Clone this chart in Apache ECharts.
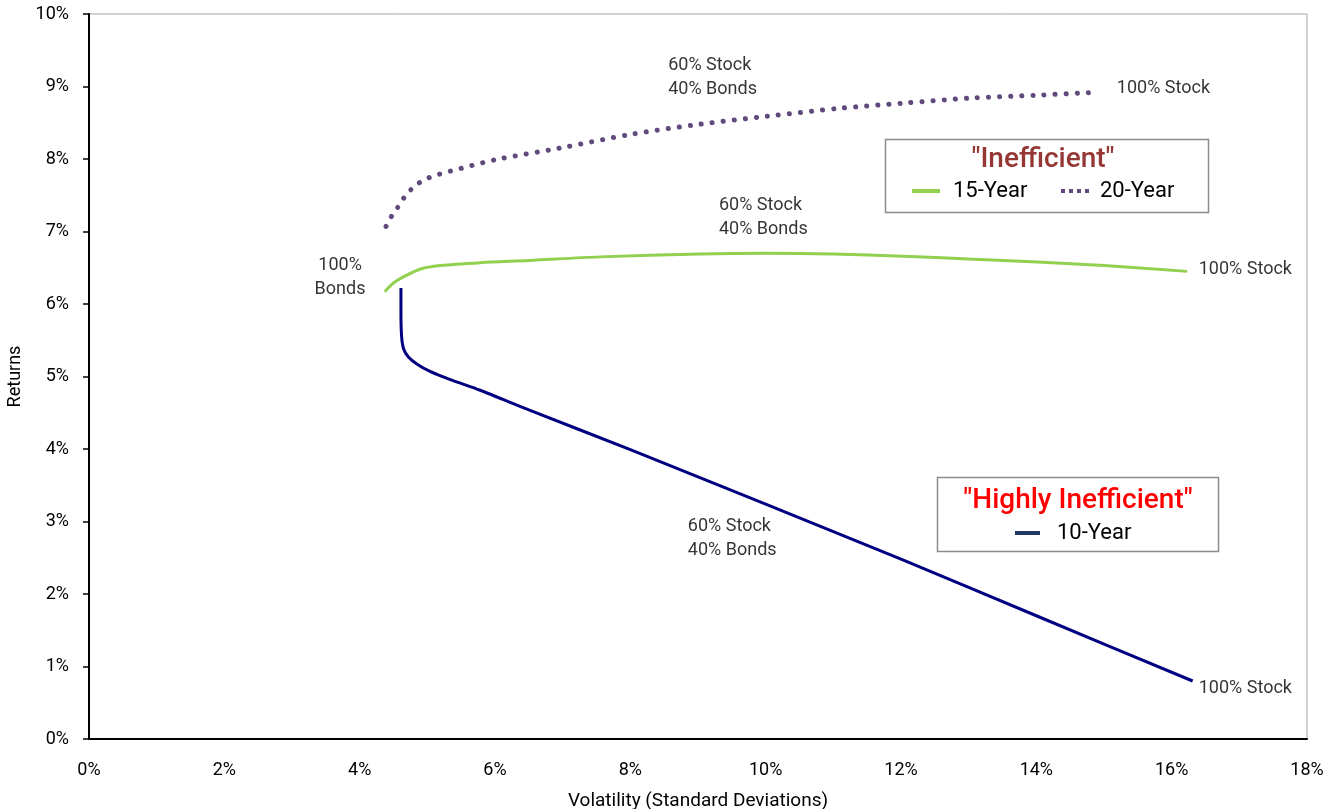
<!DOCTYPE html>
<html>
<head>
<meta charset="utf-8">
<script src="https://cdn.jsdelivr.net/npm/echarts@6/dist/echarts.min.js"></script>
<style>
  html, body { margin: 0; padding: 0; background: #fff; }
  #chart { width: 1328px; height: 809px; }
</style>
</head>
<body>
<div id="chart"></div>
<script>
// Risk / return frontiers for stock–bond mixes over rolling horizons (values in %)
const xTicks = [0, 2, 4, 6, 8, 10, 12, 14, 16, 18];
const yTicks = [0, 1, 2, 3, 4, 5, 6, 7, 8, 9, 10];

// 20-year horizon: [volatility, return]
const vol20 = [4.39, 4.49, 4.60, 4.68, 4.82, 4.97, 5.14, 5.33, 6.01, 6.96, 8.01, 9.03, 10.02, 11.10, 12.03, 13.02, 14.02, 14.87];
const ret20 = [7.07, 7.24, 7.38, 7.50, 7.63, 7.72, 7.78, 7.83, 7.99, 8.15, 8.34, 8.48, 8.59, 8.70, 8.77, 8.84, 8.88, 8.92];

// 15-year horizon
const vol15 = [4.37, 4.50, 4.64, 4.89, 5.19, 5.78, 6.50, 7.55, 9.03, 10.02, 11.00, 12.03, 13.00, 14.02, 15.00, 16.23];
const ret15 = [6.17, 6.29, 6.37, 6.48, 6.53, 6.57, 6.60, 6.65, 6.69, 6.70, 6.69, 6.66, 6.62, 6.58, 6.53, 6.45];

// 10-year horizon
const vol10 = [4.61, 4.61, 4.62, 4.65, 4.72, 4.85, 5.04, 5.33, 5.78, 6.50, 8.00, 10.00, 12.00, 14.00, 16.31];
const ret10 = [6.22, 5.90, 5.55, 5.38, 5.27, 5.17, 5.07, 4.96, 4.81, 4.54, 3.99, 3.24, 2.48, 1.70, 0.80];

// Portfolio-mix callouts: [volatility, return, text]
const notesLeft = [
  [8.56, 9.13, '60% Stock\n40% Bonds'],
  [9.31, 7.20, '60% Stock\n40% Bonds'],
  [8.85, 2.77, '60% Stock\n40% Bonds'],
  [15.19, 8.97, '100% Stock'],
  [16.40, 6.47, '100% Stock'],
  [16.40, 0.70, '100% Stock']
];
const notesCenter = [
  [3.71, 6.37, '100%\nBonds']
];

const pair = (xs, ys) => xs.map((x, i) => [x, ys[i]]);
const FONT = 'Roboto';
const TXT = '#000';

const chart = echarts.init(document.getElementById('chart'), null, { renderer: 'canvas' });

const noteSeries = (arr, align) => ({
  type: 'scatter',
  silent: true,
  symbolSize: 0,
  data: arr.map(d => ({ value: [d[0], d[1]], name: d[2] })),
  label: {
    show: true,
    position: align === 'left' ? 'right' : 'inside',
    distance: 0,
    align: align,
    verticalAlign: 'middle',
    formatter: p => p.name,
    fontFamily: FONT,
    fontSize: 18,
    lineHeight: 24,
    color: TXT
  },
  z: 5
});

chart.setOption({
  animation: false,
  backgroundColor: '#fff',
  grid: {
    left: 89, right: 21, top: 14, bottom: 70,
    containLabel: false, outerBoundsMode: 'none',
    show: true, borderColor: '#a6a6a6', borderWidth: 1
  },
  xAxis: {
    type: 'value',
    min: xTicks[0], max: xTicks[xTicks.length - 1], interval: 2,
    name: 'Volatility (Standard Deviations)',
    nameLocation: 'middle', nameGap: 53,
    nameTextStyle: { fontFamily: FONT, fontSize: 19, color: TXT },
    axisLine: { show: true, onZero: false, lineStyle: { color: '#000', width: 2 } },
    axisTick: { show: false },
    splitLine: { show: false },
    axisLabel: { margin: 22, fontFamily: FONT, fontSize: 18, color: TXT, formatter: v => v + '%' }
  },
  yAxis: {
    type: 'value',
    min: yTicks[0], max: yTicks[yTicks.length - 1], interval: 1,
    name: 'Returns',
    nameLocation: 'middle', nameGap: 55,
    nameTextStyle: { fontFamily: FONT, fontSize: 18, color: TXT },
    axisLine: { show: true, onZero: false, lineStyle: { color: '#000', width: 2 } },
    axisTick: { show: true, inside: false, length: 6, lineStyle: { color: '#000', width: 1.5 } },
    splitLine: { show: false },
    axisLabel: { margin: 20, fontFamily: FONT, fontSize: 18, color: TXT, formatter: v => v + '%' }
  },
  series: [
    {
      name: '20-Year', type: 'line', data: pair(vol20, ret20),
      smooth: 0.3, showSymbol: false, silent: true,
      lineStyle: { color: '#604a7b', width: 5, type: [0.1, 11], cap: 'round' }
    },
    {
      name: '15-Year', type: 'line', data: pair(vol15, ret15),
      smooth: 0.3, showSymbol: false, silent: true,
      lineStyle: { color: '#92d050', width: 3 }
    },
    {
      name: '10-Year', type: 'line', data: pair(vol10, ret10),
      smooth: 0.25, showSymbol: false, silent: true,
      lineStyle: { color: '#000080', width: 3 }
    },
    noteSeries(notesLeft, 'left'),
    noteSeries(notesCenter, 'center')
  ],
  graphic: [
    // "Inefficient" key
    { type: 'rect', shape: { x: 885.5, y: 139.5, width: 323, height: 73 },
      style: { fill: '#fff', stroke: '#8c8c8c', lineWidth: 1.5 }, z: 10 },
    { type: 'text', x: 1043, y: 160, z: 11,
      style: { text: '"Inefficient"', fontFamily: FONT, fontSize: 28, fontWeight: 500,
               fill: '#953735', align: 'center', verticalAlign: 'middle' } },
    { type: 'line', shape: { x1: 912, y1: 191, x2: 940, y2: 191 }, z: 11,
      style: { stroke: '#92d050', lineWidth: 4 } },
    { type: 'text', x: 953, y: 191, z: 11,
      style: { text: '15-Year', fontFamily: FONT, fontSize: 22, fill: TXT, verticalAlign: 'middle' } },
    { type: 'line', shape: { x1: 1061, y1: 191, x2: 1089, y2: 191 }, z: 11,
      style: { stroke: '#604a7b', lineWidth: 4, lineDash: [4, 4] } },
    { type: 'text', x: 1100, y: 191, z: 11,
      style: { text: '20-Year', fontFamily: FONT, fontSize: 22, fill: TXT, verticalAlign: 'middle' } },

    // "Highly Inefficient" key
    { type: 'rect', shape: { x: 937.5, y: 477.5, width: 281, height: 74 },
      style: { fill: '#fff', stroke: '#8c8c8c', lineWidth: 1.5 }, z: 10 },
    { type: 'text', x: 1078, y: 501, z: 11,
      style: { text: '"Highly Inefficient"', fontFamily: FONT, fontSize: 28, fontWeight: 500,
               fill: '#ff0000', align: 'center', verticalAlign: 'middle' } },
    { type: 'line', shape: { x1: 1015, y1: 533, x2: 1040, y2: 533 }, z: 11,
      style: { stroke: '#1f3864', lineWidth: 4 } },
    { type: 'text', x: 1057, y: 533, z: 11,
      style: { text: '10-Year', fontFamily: FONT, fontSize: 22, fill: TXT, verticalAlign: 'middle' } }
  ]
});
</script>
</body>
</html>
